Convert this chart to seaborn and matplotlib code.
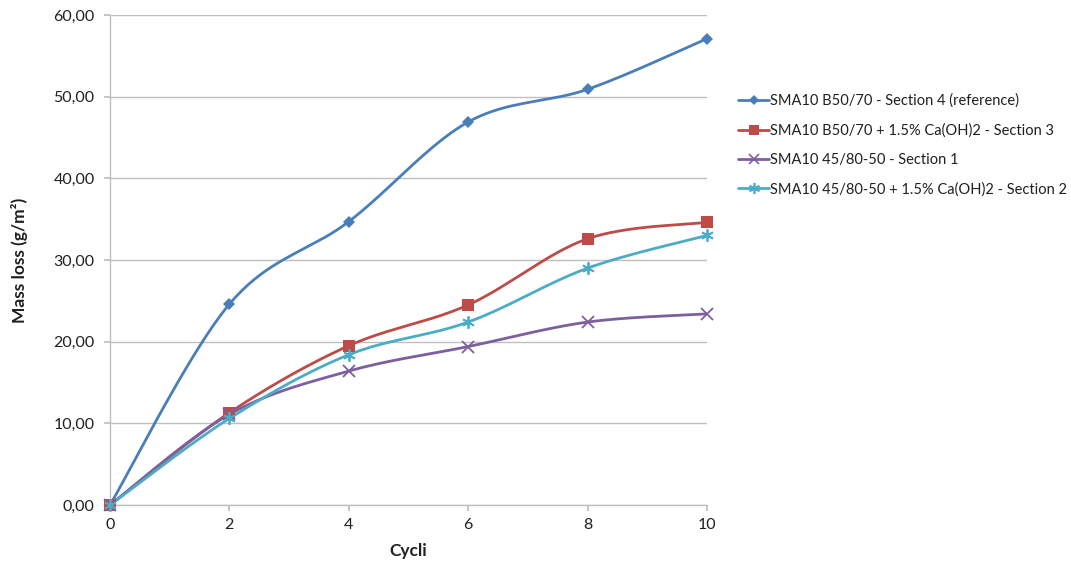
import numpy as np
import pandas as pd
import matplotlib
matplotlib.use("Agg")
import matplotlib.pyplot as plt
from matplotlib.ticker import FuncFormatter, MultipleLocator
from matplotlib.lines import Line2D
import seaborn as sns

cycles = [0, 2, 4, 6, 8, 10]
ref_b5070 = [0.0, 24.6, 34.7, 46.9, 50.9, 57.1]
b5070_caoh2 = [0.0, 11.3, 19.5, 24.5, 32.6, 34.6]
pmb_4580 = [0.0, 11.1, 16.4, 19.4, 22.4, 23.4]
pmb_4580_caoh2 = [0.0, 10.6, 18.4, 22.4, 29.0, 33.0]

series_names = [
    "SMA10 B50/70 - Section 4 (reference)",
    "SMA10 B50/70 + 1.5% Ca(OH)2 - Section 3",
    "SMA10 45/80-50 - Section 1",
    "SMA10 45/80-50 + 1.5% Ca(OH)2 - Section 2",
]
series_values = [ref_b5070, b5070_caoh2, pmb_4580, pmb_4580_caoh2]
colors = ["#4A7EBB", "#BE4B48", "#7D5FA0", "#4BACC6"]
markers = ["D", "s", "x", (6, 2, 0)]
msizes = [6, 8, 8, 9]

sns.set_theme(style="white")
plt.rcParams['font.family'] = ['Lato', 'DejaVu Sans']


def smooth_curve(x, y, n=40):
    # Excel-style smoothed line: cubic Bezier segments with Catmull-Rom tangents
    x = np.asarray(x, float)
    y = np.asarray(y, float)
    P = np.column_stack([x, y])
    out = []
    for i in range(len(P) - 1):
        p0 = P[i - 1] if i > 0 else P[i]
        p1 = P[i]
        p2 = P[i + 1]
        p3 = P[i + 2] if i + 2 < len(P) else P[i + 1]
        c1 = p1 + (p2 - p0) / 6.0
        c2 = p2 - (p3 - p1) / 6.0
        t = np.linspace(0, 1, n)[:, None]
        seg = ((1 - t) ** 3) * p1 + 3 * ((1 - t) ** 2) * t * c1 + 3 * (1 - t) * t ** 2 * c2 + t ** 3 * p2
        out.append(seg if i == 0 else seg[1:])
    arr = np.vstack(out)
    return arr[:, 0], arr[:, 1]


fig = plt.figure(figsize=(10.71, 5.63), dpi=100)
ax = fig.add_axes([0.1027, 0.103, 0.5574, 0.8704])

handles = []
for name, vals, c, m, ms in zip(series_names, series_values, colors, markers, msizes):
    sx, sy = smooth_curve(cycles, vals)
    sns.lineplot(x=sx, y=sy, ax=ax, color=c, lw=2.0, sort=False, estimator=None, zorder=3)
    is_line_marker = (m == "x") or isinstance(m, tuple)
    ax.plot(cycles, vals, linestyle="none", marker=m, color=c, markersize=ms,
            markeredgewidth=1.3 if is_line_marker else 0, zorder=4, clip_on=False)
    handles.append(Line2D([0], [0], color=c, lw=2.0, marker=m, markersize=ms - 1,
                          markeredgewidth=1.2 if is_line_marker else 0))

ax.set_xlim(0, 10)
ax.set_ylim(0, 60)
ax.xaxis.set_major_locator(MultipleLocator(2))
ax.yaxis.set_major_locator(MultipleLocator(10))
ax.yaxis.set_major_formatter(FuncFormatter(lambda v, p: f"{v:.2f}".replace(".", ",")))
ax.grid(axis="y", color="#BFBFBF", lw=1.0)
ax.grid(axis="x", visible=False)
for s in ["top", "right"]:
    ax.spines[s].set_visible(False)
for s in ["left", "bottom"]:
    ax.spines[s].set_color("#BFBFBF")
    ax.spines[s].set_linewidth(1.0)
ax.tick_params(axis="x", bottom=True, length=4, pad=5, color="#BFBFBF", labelsize=11.5, labelcolor="#202020")
ax.tick_params(axis="y", left=True, length=4, pad=7, color="#BFBFBF", labelsize=11.5, labelcolor="#202020")
ax.set_xlabel("Cycli", fontsize=12.5, fontweight="bold", color="#202020", labelpad=8)
ax.set_ylabel("Mass loss (g/m²)", fontsize=12.5, fontweight="bold", color="#202020", labelpad=18)

fig.legend(handles, series_names, loc="upper left", bbox_to_anchor=(0.677, 0.857),
           frameon=False, fontsize=10.5, handlelength=2.1, handletextpad=0.1,
           labelspacing=1.05, labelcolor="#202020")

fig.savefig("out.png", dpi=100)
